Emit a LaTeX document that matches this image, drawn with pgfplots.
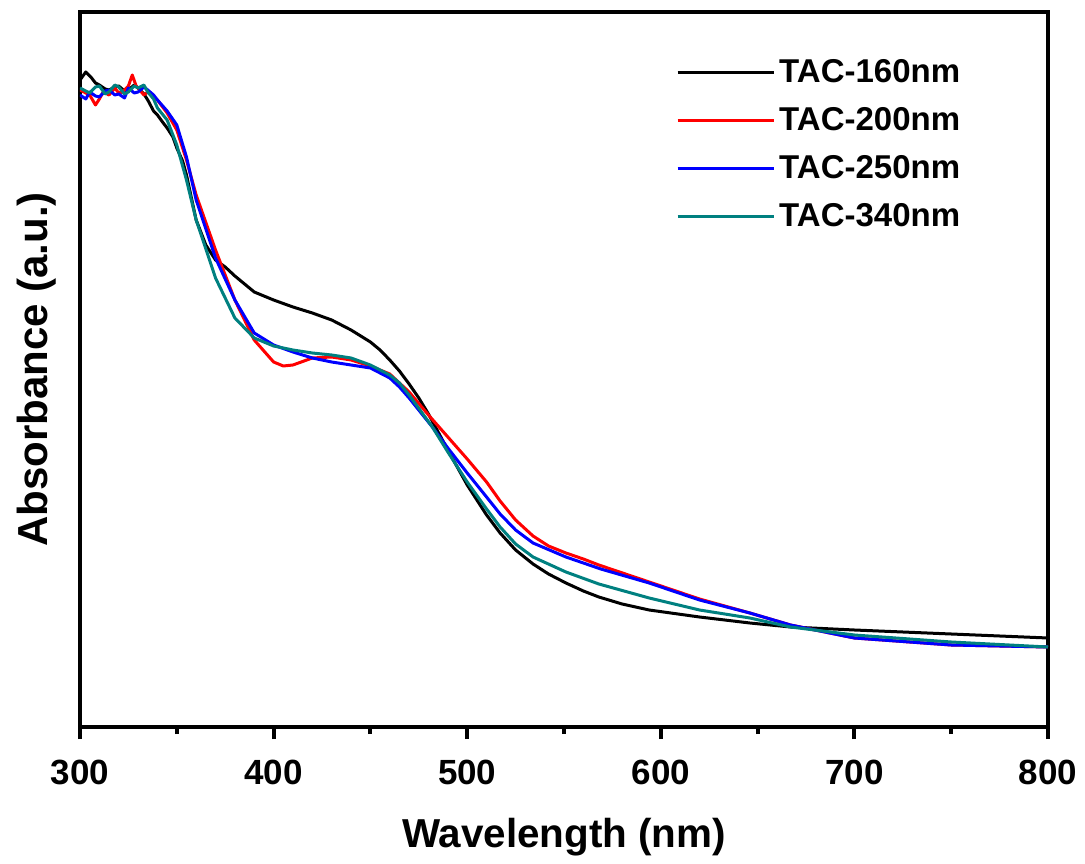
\documentclass[border=0pt]{standalone}
\usepackage{fontspec}
\setmainfont{Liberation Sans}
\usepackage{pgfplots}
\pgfplotsset{compat=1.18}

\definecolor{tealc}{RGB}{0,128,128}

\begin{document}
\begin{tikzpicture}
\begin{axis}[
    scale only axis,
    width=484pt, height=357.5pt,
    xmin=300, xmax=800, ymin=0, ymax=0.715,
    xtick={300,400,...,800},
    minor x tick num=1,
    ytick=\empty,
    xtick pos=bottom,
    tick align=outside,
    major tick length=6pt,
    minor tick length=3.5pt,
    every tick/.style={line width=2pt, black},
    axis line style={line width=2pt},
    /pgf/number format/assume math mode=true,
    /pgf/number format/1000 sep={},
    tick label style={font=\bfseries\fontsize{17.5}{20}\selectfont},
    xticklabel style={yshift=-7pt},
    xlabel={Wavelength (nm)},
    ylabel={Absorbance (a.u.)},
    xlabel style={font=\bfseries\fontsize{20.2}{24}\selectfont, yshift=-10pt},
    ylabel style={font=\bfseries\fontsize{21}{24}\selectfont, yshift=2.5pt},
    legend style={at={(rel axis cs:0.92,0.945)}, anchor=north east,
        draw=none, fill=none, font=\bfseries\fontsize{16.5}{19}\selectfont,
        row sep=7pt, legend cell align=left},
    legend image code/.code={\draw[#1, line width=1.5pt] (-4pt,0pt) -- (44pt,0pt);},
    every axis plot/.append style={line width=1.5pt, line join=round},
]
\addplot[black] table {
300 0.647
303 0.655
306 0.649
308 0.644
310 0.642
313 0.638
315 0.637
318 0.640
320 0.641
323 0.636
325 0.637
328 0.642
330 0.639
333 0.633
335 0.627
338 0.616
340 0.612
343 0.604
345 0.599
348 0.590
350 0.579
353 0.566
355 0.552
358 0.525
360 0.507
365 0.482
370 0.467
375 0.460
380 0.451
390 0.435
400 0.427
410 0.420
420 0.414
430 0.407
440 0.397
450 0.385
455 0.377
460 0.367
465 0.356
470 0.343
475 0.329
480 0.313
490 0.277
500 0.242
510 0.212
517 0.194
525 0.177
534 0.163
542 0.153
551 0.144
560 0.136
568 0.130
580 0.123
594 0.117
620 0.110
646 0.104
667 0.100
700 0.097
750 0.093
800 0.089
};
\addlegendentry{TAC-160nm}
\addplot[red] table {
300 0.637
303 0.634
305 0.632
308 0.622
310 0.628
312 0.635
315 0.632
318 0.639
320 0.634
322 0.635
325 0.641
327 0.652
329 0.641
330 0.639
333 0.632
335 0.635
338 0.630
340 0.627
345 0.614
350 0.597
355 0.567
360 0.532
370 0.477
380 0.427
390 0.387
400 0.365
405 0.361
410 0.362
420 0.369
430 0.370
440 0.367
450 0.361
460 0.353
470 0.335
480 0.312
490 0.290
500 0.268
510 0.245
517 0.226
525 0.207
534 0.191
542 0.181
551 0.174
560 0.168
568 0.162
594 0.145
620 0.128
646 0.114
667 0.102
700 0.089
750 0.082
800 0.080
};
\addlegendentry{TAC-200nm}
\addplot[blue] table {
300 0.632
303 0.628
305 0.635
308 0.631
310 0.630
313 0.636
315 0.637
318 0.632
320 0.633
323 0.629
325 0.639
328 0.634
330 0.635
333 0.640
335 0.637
338 0.632
340 0.627
345 0.616
350 0.602
355 0.570
360 0.527
370 0.469
380 0.427
390 0.394
400 0.382
410 0.375
420 0.369
430 0.365
440 0.362
450 0.359
460 0.349
465 0.340
470 0.329
482 0.300
490 0.279
500 0.254
510 0.230
517 0.213
525 0.197
534 0.184
551 0.170
569 0.158
594 0.144
620 0.127
646 0.114
667 0.102
700 0.089
750 0.082
800 0.080
};
\addlegendentry{TAC-250nm}
\addplot[tealc] table {
300 0.639
303 0.636
305 0.634
308 0.640
310 0.641
313 0.633
315 0.635
318 0.642
320 0.640
323 0.633
325 0.635
328 0.641
330 0.639
333 0.642
335 0.635
338 0.628
340 0.619
345 0.607
350 0.582
355 0.547
360 0.507
370 0.449
380 0.409
390 0.389
400 0.381
410 0.377
420 0.374
430 0.372
440 0.369
450 0.362
460 0.352
465 0.344
470 0.332
482 0.300
490 0.275
500 0.245
510 0.218
517 0.200
525 0.183
534 0.170
551 0.155
568 0.143
594 0.129
620 0.117
646 0.109
667 0.100
700 0.092
750 0.085
800 0.080
};
\addlegendentry{TAC-340nm}
\coordinate (sw) at (rel axis cs:0,0);
\coordinate (ne) at (rel axis cs:1,1);
\end{axis}
\path ([shift={(-40pt,-66.5pt)}]sw) rectangle ([shift={(18.5pt,6pt)}]ne);
\end{tikzpicture}
\end{document}
